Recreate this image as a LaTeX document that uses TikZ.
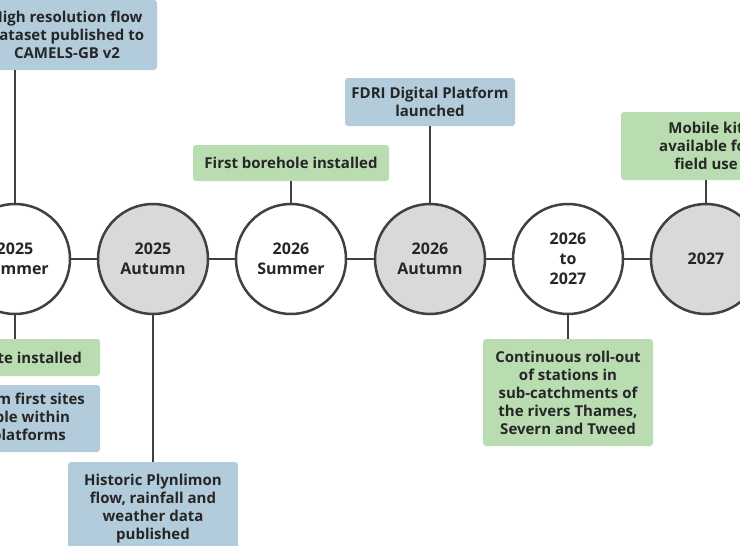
\documentclass[tikz,border=0pt]{standalone}
\usepackage{fontspec}
\setmainfont{Open Sans}
\definecolor{boxblue}{HTML}{B3CCDC}
\definecolor{boxgreen}{HTML}{B9DCB0}
\definecolor{stagegray}{HTML}{D9D9D9}
\definecolor{inkgray}{HTML}{404040}
\tikzset{
  stage/.style={circle,draw=inkgray,line width=2.5pt,minimum size=110pt,inner sep=0pt,
    align=center,font=\bfseries\fontsize{16}{20}\selectfont,text=black!85},
  event/.style={rounded corners=3pt,inner xsep=4pt,inner ysep=3pt,align=center,
    font=\bfseries\fontsize{15}{18}\selectfont,text=black!85},
  plan/.style={event,fill=boxblue},
  site/.style={event,fill=boxgreen},
  link/.style={draw=inkgray,line width=1.3pt}
}
\begin{document}
\begin{tikzpicture}[x=1pt,y=-1pt]
  \useasboundingbox (0,0) rectangle (740,546);
  \clip (0,0) rectangle (740,546);
  % timeline
  \node[stage] (s1) at (15,259) {2025\\Summer};
  \node[stage,fill=stagegray] (s2) at (153,259) {2025\\Autumn};
  \node[stage] (s3) at (291,259) {2026\\Summer};
  \node[stage,fill=stagegray] (s4) at (430,259) {2026\\Autumn};
  \node[stage] (s5) at (568,259) {2026\\to\\2027};
  \node[stage,fill=stagegray] (s6) at (706,259) {2027};
  \draw[link,line width=2pt] (s1) -- (s2) (s2) -- (s3) (s3) -- (s4) (s4) -- (s5) (s5) -- (s6);
  % events
  \node[plan,minimum width=180pt,minimum height=70pt] (hires) at (67,35)
    {High resolution flow\\dataset published to\\CAMELS-GB v2};
  \node[site,minimum width=170pt,minimum height=37pt] (first) at (15,357.5) {First site installed};
  \node[plan,minimum width=180pt,minimum height=67pt] (data) at (10,418.5)
    {Data from first sites\\available within\\FDRI platforms};
  \node[plan,minimum width=170pt,minimum height=94pt] (hist) at (153,509)
    {Historic Plynlimon\\flow, rainfall and\\weather data\\published};
  \node[site,minimum width=196pt,minimum height=36pt] (bore) at (291,163) {First borehole installed};
  \node[plan,minimum width=170pt,minimum height=48pt] (fdri) at (430,102)
    {FDRI Digital Platform\\launched};
  \node[site,minimum width=170pt,minimum height=107pt] (roll) at (568,392.5)
    {Continuous roll-out\\of stations in\\sub-catchments of\\the rivers Thames,\\Severn and Tweed};
  \node[site,minimum width=170pt,minimum height=68pt] (kit) at (706,146)
    {Mobile kit\\available for\\field use};
  % connectors
  \draw[link] (s1.north) -- (s1.north |- hires.south);
  \draw[link] (s1) -- (first);
  \draw[link] (s2) -- (hist);
  \draw[link] (s3) -- (bore);
  \draw[link] (s4) -- (fdri);
  \draw[link] (s5) -- (roll);
  \draw[link] (s6) -- (kit);
\end{tikzpicture}
\end{document}
